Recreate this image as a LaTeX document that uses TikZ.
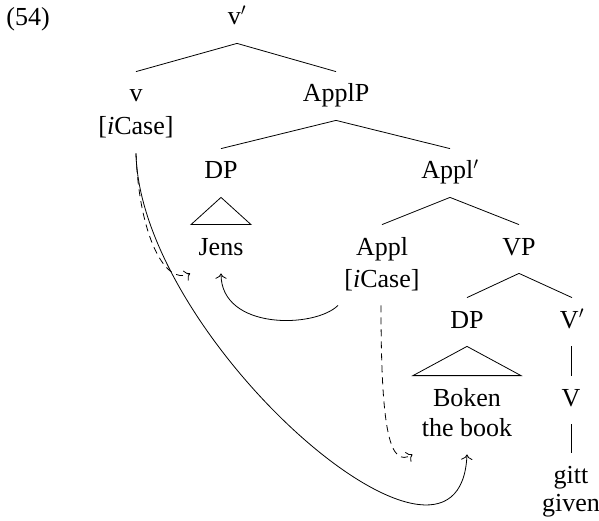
\documentclass[tikz,border=0pt]{standalone}
\usepackage{fontspec}
\setmainfont{Liberation Serif}
\usetikzlibrary{arrows.meta, positioning}

\begin{document}
\begin{tikzpicture}[x=1pt, y=-1pt, line width=0.8pt,
    lbl/.style={anchor=base, inner sep=0pt, text height=30pt, text depth=18pt},
    feat/.style={-{To[scale=1.6]}},
    agree/.style={-{To[scale=1.6]}, dash pattern=on 7pt off 5pt}]
  \fontsize{26}{31}\selectfont
  \useasboundingbox (0,0) rectangle (599,521);

  %% Example number
  \node[anchor=base west, inner sep=0pt] (exno) at (6,26) {(54)};

  % top of the tree
  \node[lbl] (vbar) at (237,25) {v$'$};
  \node[lbl] (v) at (136,102) {v};
  \node[lbl] (vcase) at (136,135) {[\textit{i}Case]};
  \node[lbl] (applp) at (336,102) {ApplP};
  \draw (vbar.south) -- (v.north);
  \draw (vbar.south) -- (applp.north);

  % ApplP
  \node[lbl] (dpjens) at (221,179) {DP};
  \node[lbl] (jens) at (221,255) {Jens};
  \node[lbl] (applbar) at (450,179) {Appl$'$};
  \draw (applp.south) -- (dpjens.north);
  \draw (applp.south) -- (applbar.north);
  \draw (dpjens.south) -- ([xshift=-30pt]jens.north) -- ([xshift=30pt]jens.north) -- cycle;

  % Appl'
  \node[lbl] (appl) at (382,255) {Appl};
  \node[lbl] (applcase) at (382,287) {[\textit{i}Case]};
  \node[lbl] (vp) at (519,255) {VP};
  \draw (applbar.south) -- (appl.north);
  \draw (applbar.south) -- (vp.north);

  % VP
  \node[lbl] (dpbook) at (467,328) {DP};
  \node[lbl] (boken) at (467,406) {Boken};
  \node[lbl] (book) at (467,436) {the book};
  \node[lbl] (vbarlow) at (572,328) {V$'$};
  \node[lbl] (verb) at (571,406) {V};
  \node[lbl] (gitt) at (571,483) {gitt};
  \node[lbl] (given) at (571,511) {given};
  \draw (vp.south) -- (dpbook.north);
  \draw (vp.south) -- (vbarlow.north);
  \draw (dpbook.south) -- ([xshift=-54pt]boken.north) -- ([xshift=54pt]boken.north) -- cycle;
  \draw ([xshift=-1pt]vbarlow.south) -- (verb.north);
  \draw (verb.south) -- (gitt.north);

  %% case assignment
  \draw[feat] (vcase.south) .. controls +(4,187) and +(-7,165) .. (book.south);
  \draw[agree] (vcase.south) .. controls +(3,82) and +(-25,13) .. ([xshift=-8pt]jens.south west);
  \draw[feat] ([xshift=-44pt]applcase.south) .. controls +(-23,23) and +(0,57) .. (jens.south);
  \draw[agree] ([xshift=-1pt]applcase.south) .. controls +(0,125) and +(-23,14) .. ([xshift=-9pt]book.south west);

\end{tikzpicture}
\end{document}
